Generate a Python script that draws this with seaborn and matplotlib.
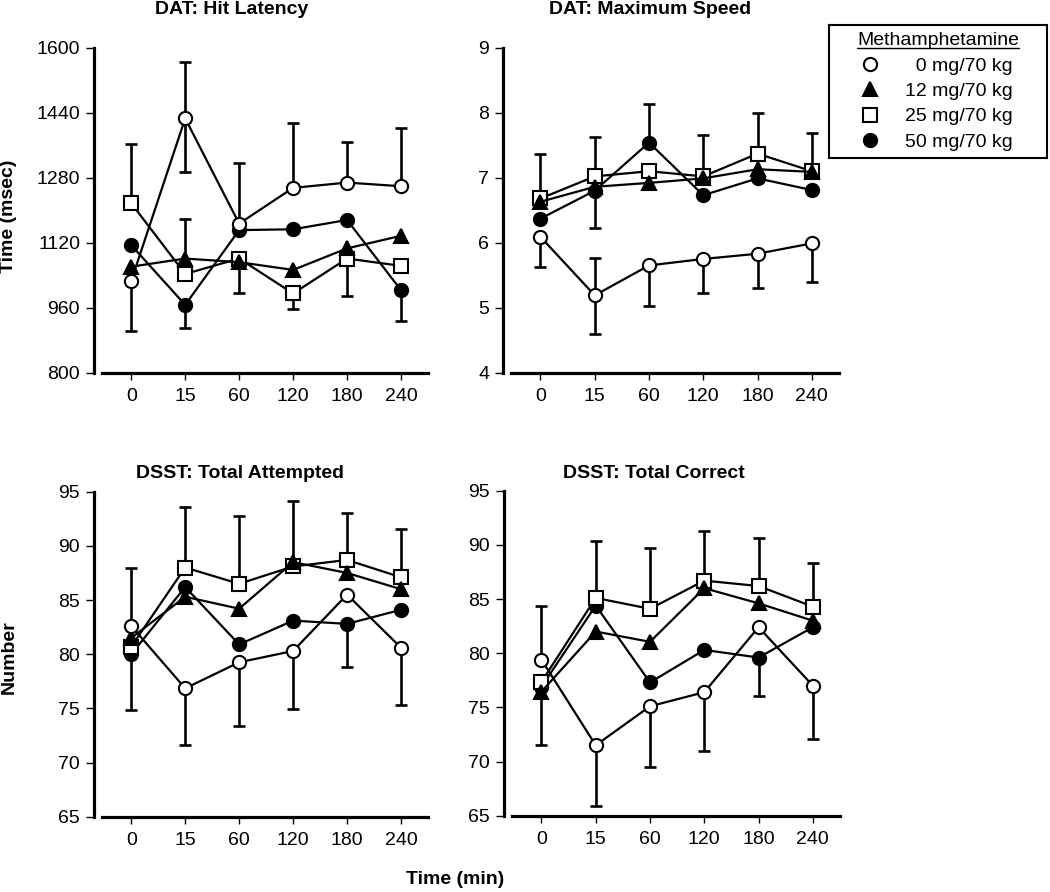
import numpy as np
import pandas as pd
import matplotlib
matplotlib.use("Agg")
import matplotlib.pyplot as plt
from matplotlib.lines import Line2D
import seaborn as sns

sns.set_theme(style="ticks")
plt.rcParams['font.family'] = ['Liberation Sans', 'DejaVu Sans']
plt.rcParams.update({'text.color': 'black', 'axes.edgecolor': 'black',
                     'xtick.color': 'black', 'ytick.color': 'black',
                     'axes.labelcolor': 'black'})

times = ['0', '15', '60', '120', '180', '240']
doses = ['0 mg/70 kg', '12 mg/70 kg', '25 mg/70 kg', '50 mg/70 kg']

# DAT: Hit Latency (msec) - one row per dose
hit_mean = [[1026, 1426, 1167, 1255, 1268, 1259],
            [1061, 1081, 1072, 1053, 1106, 1137],
            [1217, 1043, 1081, 995, 1081, 1063],
            [1114, 967, 1151, 1153, 1176, 1003]]
hit_up = [[0, 138, 150, 159, 101, 144],
          [0, 97, 0, 0, 0, 0],
          [145, 0, 0, 0, 0, 0],
          [0, 0, 0, 0, 0, 0]]
hit_down = [[124, 131, 0, 0, 0, 0],
            [0, 0, 0, 0, 0, 0],
            [0, 0, 86, 39, 92, 0],
            [0, 56, 0, 0, 0, 76]]

# DAT: Maximum Speed
speed_mean = [[6.09, 5.19, 5.65, 5.75, 5.83, 5.99],
              [6.63, 6.86, 6.92, 6.99, 7.13, 7.09],
              [6.68, 7.02, 7.10, 7.02, 7.37, 7.10],
              [6.37, 6.80, 7.54, 6.73, 6.99, 6.81]]
speed_up = [[0, 0.58, 0, 0, 0, 0],
            [0, 0, 0, 0, 0, 0],
            [0.69, 0.61, 0, 0.64, 0.62, 0.58],
            [0, 0, 0.59, 0, 0, 0]]
speed_down = [[0.47, 0.59, 0.62, 0.53, 0.53, 0.60],
              [0, 0, 0, 0, 0, 0],
              [0, 0, 0, 0, 0, 0],
              [0, 0.58, 0, 0, 0, 0]]

# DSST: Total Attempted
att_mean = [[82.6, 76.85, 79.25, 80.3, 85.5, 80.6],
            [81.5, 85.3, 84.2, 88.5, 87.5, 86.0],
            [80.7, 88.0, 86.5, 88.1, 88.7, 87.1],
            [80.0, 86.2, 80.9, 83.1, 82.8, 84.1]]
att_up = [[5.4, 0, 0, 0, 0, 0],
          [0, 0, 0, 5.6, 0, 0],
          [0, 5.55, 6.25, 0, 4.3, 4.45],
          [0, 0, 0, 0, 0, 0]]
att_down = [[0, 5.25, 5.85, 5.4, 0, 5.3],
            [0, 0, 0, 0, 0, 0],
            [0, 0, 0, 0, 0, 0],
            [5.15, 0, 0, 0, 3.95, 0]]

# DSST: Total Correct
cor_mean = [[79.4, 71.5, 75.1, 76.4, 82.4, 77.0],
            [76.45, 82.0, 81.05, 86.0, 84.6, 83.0],
            [77.35, 85.1, 84.1, 86.7, 86.2, 84.3],
            [76.9, 84.4, 77.3, 80.3, 79.6, 82.4]]
cor_up = [[4.95, 0, 0, 0, 0, 0],
          [0, 0, 0, 0, 0, 0],
          [0, 5.25, 5.6, 4.6, 4.45, 4.05],
          [0, 0, 0, 0, 0, 0]]
cor_down = [[0, 5.6, 5.6, 5.4, 0, 4.9],
            [4.9, 0, 0, 0, 0, 0],
            [0, 0, 0, 0, 0, 0],
            [0, 0, 0, 0, 3.55, 0]]

markers = {'0 mg/70 kg': ('o', 'white'), '12 mg/70 kg': ('^', 'black'),
           '25 mg/70 kg': ('s', 'white'), '50 mg/70 kg': ('o', 'black')}

W, H = 1050, 892


def long_table(means):
    rows = []
    for d, vals in zip(doses, means):
        for i, v in enumerate(vals):
            rows.append({'dose': d, 'pos': i, 'value': v})
    return pd.DataFrame(rows)


def panel(ax, means, up, down, yticks):
    df = long_table(means)
    pos = np.arange(len(times))
    # one-sided error bars
    for k in range(len(doses)):
        m = np.array(means[k], float)
        for err, sign in ((np.array(up[k], float), 1), (np.array(down[k], float), -1)):
            sel = err > 0
            if not sel.any():
                continue
            ends = m[sel] + sign * err[sel]
            ax.vlines(pos[sel], m[sel], ends, color='black', lw=1.9, zorder=1)
            ax.plot(pos[sel], ends, ls='none', marker='_', ms=8, mew=1.9,
                    color='black', zorder=1)
    order = ['50 mg/70 kg', '25 mg/70 kg', '12 mg/70 kg', '0 mg/70 kg']
    for z, d in enumerate(order):
        mk, fc = markers[d]
        sns.lineplot(data=df[df['dose'] == d], x='pos', y='value', ax=ax,
                     color='black', marker=mk, markersize=9.5,
                     markerfacecolor=fc, markeredgecolor='black',
                     markeredgewidth=1.5, linewidth=1.6, errorbar=None,
                     legend=False, zorder=3 + z)
    ax.set_xlim(-0.69, 5.5)
    ax.set_ylim(yticks[0], yticks[-1])
    ax.set_xticks(pos, times)
    ax.set_yticks(yticks)
    ax.set_xlabel('')
    ax.set_ylabel('')
    sns.despine(ax=ax)
    ax.spines['bottom'].set_bounds(-0.55, 5.5)
    for s in ('left', 'bottom'):
        ax.spines[s].set_linewidth(2.3)
    ax.tick_params(axis='y', length=6, width=1, pad=4, labelsize=14)
    ax.tick_params(axis='x', length=5, width=1, pad=6, labelsize=14)


fig = plt.figure(figsize=(W / 100, H / 100), dpi=100)

ax1 = fig.add_axes([94 / W, 1 - 372.7 / H, 334 / W, 325 / H])
ax2 = fig.add_axes([503 / W, 1 - 372.7 / H, 336 / W, 325 / H])
ax3 = fig.add_axes([94 / W, 1 - 816.7 / H, 334 / W, 325 / H])
ax4 = fig.add_axes([504 / W, 1 - 815.7 / H, 336 / W, 325 / H])

panel(ax1, hit_mean, hit_up, hit_down, [800, 960, 1120, 1280, 1440, 1600])
panel(ax2, speed_mean, speed_up, speed_down, [4, 5, 6, 7, 8, 9])
panel(ax3, att_mean, att_up, att_down, [65, 70, 75, 80, 85, 90, 95])
panel(ax4, cor_mean, cor_up, cor_down, [65, 70, 75, 80, 85, 90, 95])

titles = [('DAT: Hit Latency', 232, 10), ('DAT: Maximum Speed', 650, 10),
          ('DSST: Total Attempted', 240, 474), ('DSST: Total Correct', 654, 473)]
for t, x, y in titles:
    fig.text(x / W, 1 - y / H, t, ha='center', va='center',
             fontsize=14, fontweight='bold')

fig.text(9 / W, 1 - 216 / H, 'Time (msec)', rotation=90, ha='center',
         va='center', fontsize=14, fontweight='bold')
fig.text(9 / W, 1 - 657 / H, 'Number', rotation=90, ha='center',
         va='center', fontsize=14, fontweight='bold')
fig.text(455 / W, 1 - 880 / H, 'Time (min)', ha='center', va='center',
         fontsize=14, fontweight='bold')

# legend box
lax = fig.add_axes([829 / W, 1 - 158 / H, 218 / W, 133 / H])
lax.set_xticks([])
lax.set_yticks([])
for s in lax.spines.values():
    s.set_visible(True)
    s.set_linewidth(1.5)
    s.set_color('black')
handles = [Line2D([], [], ls='none', marker=markers[d][0], color='black',
                  markerfacecolor=markers[d][1], markeredgecolor='black',
                  markersize=9.5, markeredgewidth=1.5) for d in doses]
labels = ['  ' + doses[0]] + doses[1:]
leg = lax.legend(handles, labels, loc='center', frameon=False,
                 title='Methamphetamine', fontsize=14, title_fontsize=14,
                 handlelength=0.6, handletextpad=1.5, labelspacing=0.4,
                 borderpad=0, borderaxespad=0)

fig.canvas.draw()
bb = leg.get_title().get_window_extent(fig.canvas.get_renderer())
uy = (bb.y0 + 1) / H
fig.add_artist(Line2D([bb.x0 / W, bb.x1 / W], [uy, uy], color='black',
                      lw=1.0, transform=fig.transFigure))

fig.savefig('out.png', dpi=100)
